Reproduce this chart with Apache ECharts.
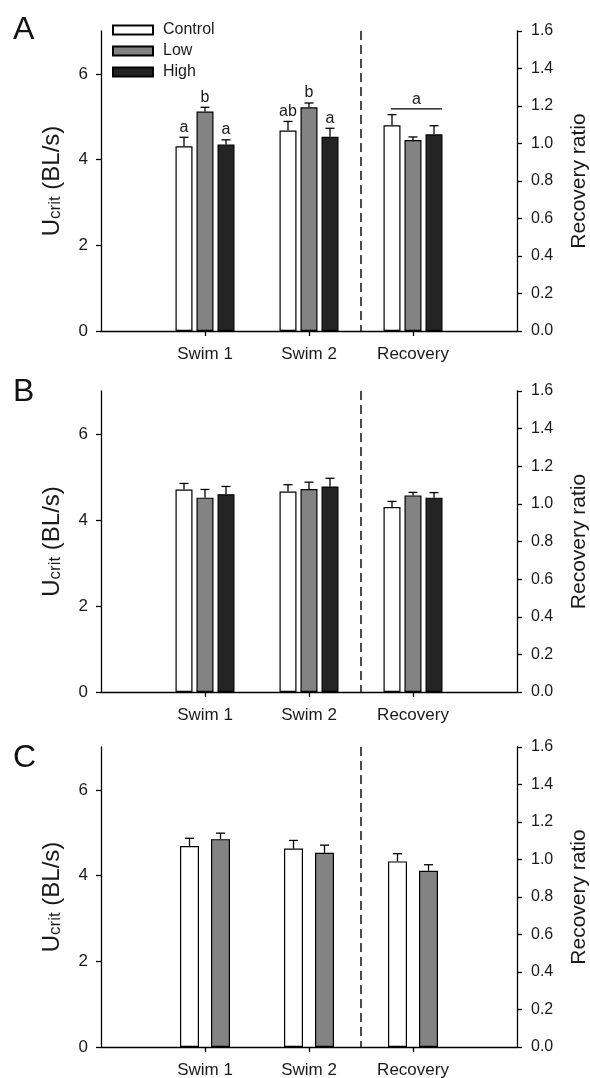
<!DOCTYPE html>
<html>
<head>
<meta charset="utf-8">
<script src="https://cdn.jsdelivr.net/npm/echarts@6/dist/echarts.min.js"></script>
<style>html,body{margin:0;padding:0;background:#fff}#c{width:590px;height:1078px}</style>
</head>
<body>
<div id="c"></div>
<script>
// ---------- data ----------
const categories = ['Swim 1', 'Swim 2', 'Recovery'];
const groups = ['Control', 'Low', 'High'];
const leftTicks = [0, 2, 4, 6];

// Panel A  (Ucrit, BL/s for Swim 1 & Swim 2; Recovery ratio for Recovery)
const A_control = [4.31, 4.68];
const A_controlErr = [0.21, 0.21];
const A_low = [5.12, 5.22];
const A_lowErr = [0.10, 0.10];
const A_high = [4.35, 4.53];
const A_highErr = [0.11, 0.20];
const A_recovery = [1.097, 1.019, 1.049];
const A_recoveryErr = [0.057, 0.016, 0.046];
const A_letters = [['a', 'b', 'a'], ['ab', 'b', 'a']]; // [category][group]
const A_recoveryLetter = 'a';
const A_recoveryLetterLevel = 1.185;

// Panel B
const B_control = [4.71, 4.66];
const B_controlErr = [0.14, 0.16];
const B_low = [4.52, 4.72];
const B_lowErr = [0.19, 0.16];
const B_high = [4.60, 4.78];
const B_highErr = [0.18, 0.19];
const B_recovery = [0.983, 1.045, 1.033];
const B_recoveryErr = [0.030, 0.016, 0.027];

// Panel C
const C_control = [4.69, 4.63];
const C_controlErr = [0.18, 0.19];
const C_low = [4.85, 4.53];
const C_lowErr = [0.14, 0.18];
const C_recovery = [0.99, 0.94];
const C_recoveryErr = [0.041, 0.032];

// ---------- styling / layout ----------
const FONT = '"Liberation Sans", Arial, Helvetica, sans-serif';
const TXT = '#1a1a1a';
const colors = ['#ffffff', '#838383', '#242424'];
const axisData = [''].concat(categories).concat(['']);

const panels = [
  { label: 'A', labelTop: 14, top: 31, height: 300,
    swim: [[A_control, A_controlErr], [A_low, A_lowErr], [A_high, A_highErr]],
    rec: A_recovery, recErr: A_recoveryErr, barWidth: 17, gap: 4,
    letters: A_letters },
  { label: 'B', labelTop: 376, top: 391, height: 301,
    swim: [[B_control, B_controlErr], [B_low, B_lowErr], [B_high, B_highErr]],
    rec: B_recovery, recErr: B_recoveryErr, barWidth: 17, gap: 4 },
  { label: 'C', labelTop: 742, top: 747, height: 300,
    swim: [[C_control, C_controlErr], [C_low, C_lowErr]],
    rec: C_recovery, recErr: C_recoveryErr, barWidth: 19, gap: 12 }
];

const grid = [], xAxis = [], yAxis = [], series = [], title = [];

function errRender(offsets, letterList) {
  return function (params, api) {
    const cat = api.value(0), v = api.value(1), e = api.value(2), g = api.value(3);
    const base = api.coord([cat, v]);
    const top = api.coord([cat, v + e]);
    const x = base[0] + offsets[g];
    const st = { stroke: '#000', lineWidth: 1.3 };
    const children = [
      { type: 'line', shape: { x1: x, y1: base[1], x2: x, y2: top[1] }, style: st },
      { type: 'line', shape: { x1: x - 4.5, y1: top[1], x2: x + 4.5, y2: top[1] }, style: st }
    ];
    const lt = letterList ? letterList[params.dataIndex] : null;
    if (lt) {
      children.push({ type: 'text', style: { text: lt, x: x, y: top[1] - 10, align: 'center',
        verticalAlign: 'middle', fontSize: 16, fontFamily: FONT, fill: TXT } });
    }
    return { type: 'group', children };
  };
}

panels.forEach((p, pi) => {
  const xi = pi * 2, yi = pi * 2;
  grid.push({ left: 101, right: 73, top: p.top, height: p.height, containLabel: false, outerBoundsMode: 'none' });
  title.push({ text: p.label, left: 13, top: p.labelTop, padding: 0,
    textStyle: { fontSize: 32, fontWeight: 'normal', color: '#111', fontFamily: FONT } });

  xAxis.push({
    type: 'category', gridIndex: pi, data: axisData, boundaryGap: false,
    axisLine: { lineStyle: { color: '#000', width: 1.3 } },
    axisTick: { show: true, length: 5, interval: (i) => i >= 1 && i <= 3, lineStyle: { color: '#000', width: 1.3 } },
    axisLabel: { interval: 0, fontSize: 17, color: TXT, fontFamily: FONT, margin: 15 },
    splitLine: { show: false }
  });
  xAxis.push({ type: 'category', gridIndex: pi, data: axisData, boundaryGap: false, show: false });

  yAxis.push({
    type: 'value', gridIndex: pi, position: 'left', min: 0, max: 7,
    name: '{a|U}{b|crit}{a| (BL/s)}', nameLocation: 'middle', nameRotate: 90, nameGap: 37,
    nameTextStyle: { fontFamily: FONT, color: TXT,
      rich: { a: { fontSize: 24, fontFamily: FONT, color: TXT, lineHeight: 28, verticalAlign: 'bottom' },
              b: { fontSize: 17, fontFamily: FONT, color: TXT, lineHeight: 14, verticalAlign: 'bottom' } } },
    axisLine: { show: true, lineStyle: { color: '#000', width: 1.3 } },
    axisTick: { show: true, length: 5, customValues: leftTicks, lineStyle: { color: '#000', width: 1.3 } },
    axisLabel: { customValues: leftTicks, fontSize: 17, color: TXT, fontFamily: FONT, margin: 13 },
    splitLine: { show: false }
  });
  yAxis.push({
    type: 'value', gridIndex: pi, position: 'right', min: 0, max: 1.6, interval: 0.2,
    name: 'Recovery ratio', nameLocation: 'middle', nameRotate: 90, nameGap: 52,
    nameTextStyle: { fontSize: 21, fontFamily: FONT, color: TXT },
    axisLine: { show: true, lineStyle: { color: '#000', width: 1.3 } },
    axisTick: { show: true, length: 5, lineStyle: { color: '#000', width: 1.3 } },
    axisLabel: { fontSize: 16, color: TXT, fontFamily: FONT, margin: 14, formatter: (v) => v.toFixed(1) },
    splitLine: { show: false }
  });

  const n = p.swim.length;
  const offsets = [];
  for (let g = 0; g < n; g++) offsets.push((g - (n - 1) / 2) * (p.barWidth + p.gap));
  const barGap = (p.gap / p.barWidth * 100) + '%';

  // swim bars
  p.swim.forEach((pair, g) => {
    const vals = pair[0];
    series.push({ type: 'bar', name: groups[g], xAxisIndex: xi, yAxisIndex: yi,
      data: ['-', vals[0], vals[1], '-', '-'], barWidth: p.barWidth, barGap,
      itemStyle: { color: colors[g], borderColor: '#000', borderWidth: 1.2 }, silent: true, z: 2 });
  });
  // recovery bars (right axis)
  p.rec.forEach((v, g) => {
    series.push({ type: 'bar', name: groups[g], xAxisIndex: xi + 1, yAxisIndex: yi + 1,
      data: ['-', '-', '-', v, '-'], barWidth: p.barWidth, barGap,
      itemStyle: { color: colors[g], borderColor: '#000', borderWidth: 1.2 }, silent: true, z: 2 });
  });

  // error bars swim
  const swimErrData = [], swimLetters = [];
  p.swim.forEach((pair, g) => {
    pair[0].forEach((v, i) => {
      swimErrData.push([i + 1, v, pair[1][i], g]);
      swimLetters.push(p.letters ? p.letters[i][g] : null);
    });
  });
  series.push({ type: 'custom', name: 'errSwim' + pi, xAxisIndex: xi, yAxisIndex: yi, z: 5, silent: true,
    renderItem: errRender(offsets, swimLetters), data: swimErrData });

  const recErrData = p.rec.map((v, g) => [3, v, p.recErr[g], g]);
  series.push({ type: 'custom', name: 'errRec' + pi, xAxisIndex: xi + 1, yAxisIndex: yi + 1, z: 5, silent: true,
    renderItem: errRender(offsets, null), data: recErrData });

  // dashed separator between Swim 2 and Recovery
  series.push({ type: 'custom', name: 'sep' + pi, xAxisIndex: xi, yAxisIndex: yi, z: 4, silent: true,
    data: [[2, 0]],
    renderItem: function (params, api) {
      const a = api.coord([2, 0]), b = api.coord([3, 0]);
      const x = (a[0] + b[0]) / 2;
      const cs = params.coordSys;
      return { type: 'line', shape: { x1: x, y1: cs.y, x2: x, y2: cs.y + cs.height },
        style: { stroke: '#000', lineWidth: 1.4, lineDash: [9, 5] } };
    } });

  if (pi === 0) {
    series.push({ type: 'custom', name: 'sigA', xAxisIndex: xi + 1, yAxisIndex: yi + 1, z: 5, silent: true,
      data: [[3, A_recoveryLetterLevel]],
      renderItem: function (params, api) {
        const c = api.coord([api.value(0), api.value(1)]);
        const x1 = c[0] - 22, x2 = c[0] + 29;
        return { type: 'group', children: [
          { type: 'line', shape: { x1, y1: c[1], x2, y2: c[1] }, style: { stroke: '#000', lineWidth: 1.3 } },
          { type: 'text', style: { text: A_recoveryLetter, x: (x1 + x2) / 2, y: c[1] - 9, align: 'center',
            verticalAlign: 'middle', fontSize: 16, fontFamily: FONT, fill: TXT } }
        ] };
      } });
  }
});

const chart = echarts.init(document.getElementById('c'), null, { renderer: 'canvas' });
chart.setOption({
  animation: false,
  backgroundColor: '#fff',
  title, grid, xAxis, yAxis, series,
  legend: {
    data: groups, orient: 'vertical', left: 112, top: 22, padding: 0,
    itemWidth: 40, itemHeight: 9, itemGap: 5, icon: 'rect', selectedMode: false,
    textStyle: { fontSize: 16, lineHeight: 16, color: TXT, fontFamily: FONT, padding: [0, 0, 0, 5] }
  }
});
</script>
</body>
</html>
